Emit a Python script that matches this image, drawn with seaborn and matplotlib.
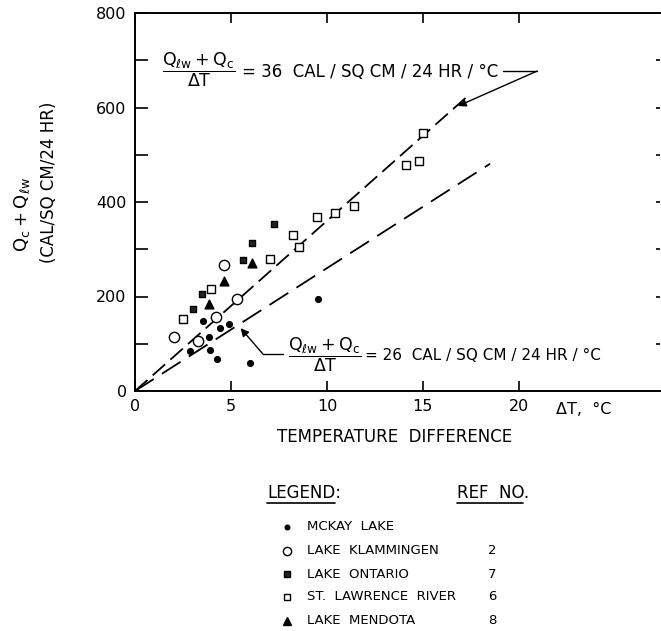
import matplotlib
matplotlib.use('Agg')
import matplotlib.pyplot as plt
from matplotlib.lines import Line2D
import seaborn as sns
import pandas as pd

# data (delta T in C, Qc + Qlw in cal/sq cm/24 hr)
mckay_dt = [2.86, 3.54, 3.85, 3.91, 4.43, 4.90, 4.27, 5.99, 9.53]
mckay_q = [85, 148, 114, 87, 133, 142, 68, 59, 195]

klam_dt = [2.03, 3.28, 4.22, 5.31, 4.64]
klam_q = [114, 106, 157, 195, 267]

ontario_dt = [3.02, 3.49, 5.63, 6.09, 7.24]
ontario_q = [174, 205, 277, 313, 353]

stlaw_dt = [2.50, 3.96, 7.03, 8.23, 8.54, 9.48, 10.42, 11.40, 14.10, 14.80, 15.00]
stlaw_q = [152, 216, 279, 330, 305, 368, 376, 392, 478, 487, 546]

mendota_dt = [3.85, 4.64, 6.09]
mendota_q = [184, 233, 271]

line36_dt = [0, 17.3]
line36_q = [0, 623]
line26_dt = [0, 18.5]
line26_q = [0, 481]

lake_names = ['MCKAY  LAKE', 'LAKE  KLAMMINGEN', 'LAKE  ONTARIO',
              'ST.  LAWRENCE  RIVER', 'LAKE  MENDOTA']
ref_nos = ['', '2', '7', '6', '8']

sns.set_style('ticks')
plt.rcParams['font.family'] = ['DejaVu Sans']
plt.rcParams['mathtext.fontset'] = 'dejavusans'
plt.rcParams['mathtext.default'] = 'regular'
plt.rcParams['lines.scale_dashes'] = False
for k in ['text.color', 'axes.labelcolor', 'xtick.color', 'ytick.color',
          'axes.edgecolor']:
    plt.rcParams[k] = 'black'

fig = plt.figure(figsize=(6.61, 6.31), dpi=100)
ax = fig.add_axes([135 / 661, 1 - 391 / 631, 525 / 661, 378 / 631])

groups = [
    (mckay_dt, mckay_q, 'o', 'black', 17),
    (klam_dt, klam_q, 'o', 'white', 55),
    (ontario_dt, ontario_q, 's', '#222222', 24),
    (stlaw_dt, stlaw_q, 's', 'white', 26),
    (mendota_dt, mendota_q, '^', 'black', 40),
]
handles = []
for (dt, q, mk, fc, sz), name in zip(groups, lake_names):
    df = pd.DataFrame({'dt': dt, 'q': q})
    sns.scatterplot(data=df, x='dt', y='q', marker=mk, s=sz, color=fc,
                    edgecolor='black', linewidth=1.0, ax=ax, zorder=3)
    handles.append(Line2D([], [], linestyle='none', marker=mk,
                          markerfacecolor=fc, markeredgecolor='black',
                          markersize=(sz ** 0.5) * 0.8, markeredgewidth=1.0))

sns.lineplot(x=line36_dt, y=line36_q, ax=ax, color='black', lw=1.3,
             dashes=False, linestyle=(0, (12, 5)))
sns.lineplot(x=line26_dt, y=line26_q, ax=ax, color='black', lw=1.3,
             dashes=False, linestyle=(0, (16, 7)))

ax.set_xlim(0, 27.35)
ax.set_ylim(0, 800)
ax.set_xticks([0, 5, 10, 15, 20])
ax.set_xticklabels(['0', '5', '10', '15', '20'])
ax.set_yticks([0, 200, 400, 600, 800])
ax.set_yticks(range(100, 800, 200), minor=True)
ax.tick_params(axis='x', direction='in', length=7, width=1.2, top=True,
               labelsize=11.5, pad=6)
ax.tick_params(axis='y', which='both', direction='in', length=9, width=1.2,
               labelsize=11.5, pad=6)
ax.spines['right'].set_visible(False)
for s in ['left', 'bottom', 'top']:
    ax.spines[s].set_linewidth(1.4)
ax.set_xlabel('')
ax.set_ylabel('')

ax2 = ax.twinx()
ax2.set_ylim(0, 800)
ax2.set_yticks(range(100, 800, 100))
ax2.tick_params(direction='in', length=3, width=1.2, labelright=False)
for s in ax2.spines.values():
    s.set_visible(False)

ax.annotate('ΔT,  °C', xy=(23.4, 0), xycoords=('data', 'axes fraction'),
            xytext=(0, -8), textcoords='offset points', ha='center',
            va='top', fontsize=11.5)
fig.text(395 / 661, 1 - 437 / 631, 'TEMPERATURE  DIFFERENCE', ha='center',
         va='center', fontsize=12)

fig.text(22 / 661, 1 - 214 / 631, r'$Q_c + Q_{\ell w}$', rotation=90,
         ha='center', va='center', fontsize=13)
fig.text(49 / 661, 1 - 182 / 631, '(CAL/SQ CM/24 HR)', rotation=90,
         ha='center', va='center', fontsize=12)

frac = r'$\dfrac{Q_{\ell w} + Q_c}{\Delta T}$'
ax.text(3.33, 679, frac, ha='center', va='center', fontsize=12.5)
ax.text(5.57, 675, '= 36  CAL / SQ CM / 24 HR / °C', ha='left',
        va='center', fontsize=12)
ax.plot([19.17, 20.94], [677, 677], color='black', lw=1.0)
ax.annotate('', xy=(16.82, 603), xytext=(20.94, 677),
            arrowprops=dict(arrowstyle='-|>', color='black', lw=1.0,
                            shrinkA=0, shrinkB=0, mutation_scale=12))

ax.text(9.9, 76, frac, ha='center', va='center', fontsize=12.5)
ax.text(11.98, 76, '= 26  CAL / SQ CM / 24 HR / °C', ha='left',
        va='center', fontsize=11)
ax.plot([7.71, 6.67], [78, 78], color='black', lw=1.0)
ax.annotate('', xy=(5.5, 133), xytext=(6.67, 78),
            arrowprops=dict(arrowstyle='-|>', color='black', lw=1.0,
                            shrinkA=0, shrinkB=0, mutation_scale=12))

# legend block
fig.text(267 / 661, 1 - 493 / 631, 'LEGEND:', ha='left', va='center',
         fontsize=12)
fig.add_artist(Line2D([267 / 661, 335 / 661], [1 - 503 / 631, 1 - 503 / 631],
                      color='black', lw=1.2))
fig.text(457 / 661, 1 - 493 / 631, 'REF  NO.', ha='left', va='center',
         fontsize=12)
fig.add_artist(Line2D([457 / 661, 523 / 661], [1 - 503 / 631, 1 - 503 / 631],
                      color='black', lw=1.2))

row_y = [527, 551, 574, 597, 621]
for h, name, ref, py in zip(handles, lake_names, ref_nos, row_y):
    fy = 1 - py / 631
    fig.add_artist(Line2D([287 / 661], [fy], linestyle='none',
                          marker=h.get_marker(),
                          markerfacecolor=h.get_markerfacecolor(),
                          markeredgecolor='black',
                          markersize=h.get_markersize(),
                          markeredgewidth=1.0))
    fig.text(307 / 661, fy, name, ha='left', va='center', fontsize=9.5)
    if ref:
        fig.text(492 / 661, fy, ref, ha='center', va='center', fontsize=9.5)

fig.savefig('out.png', dpi=100)
